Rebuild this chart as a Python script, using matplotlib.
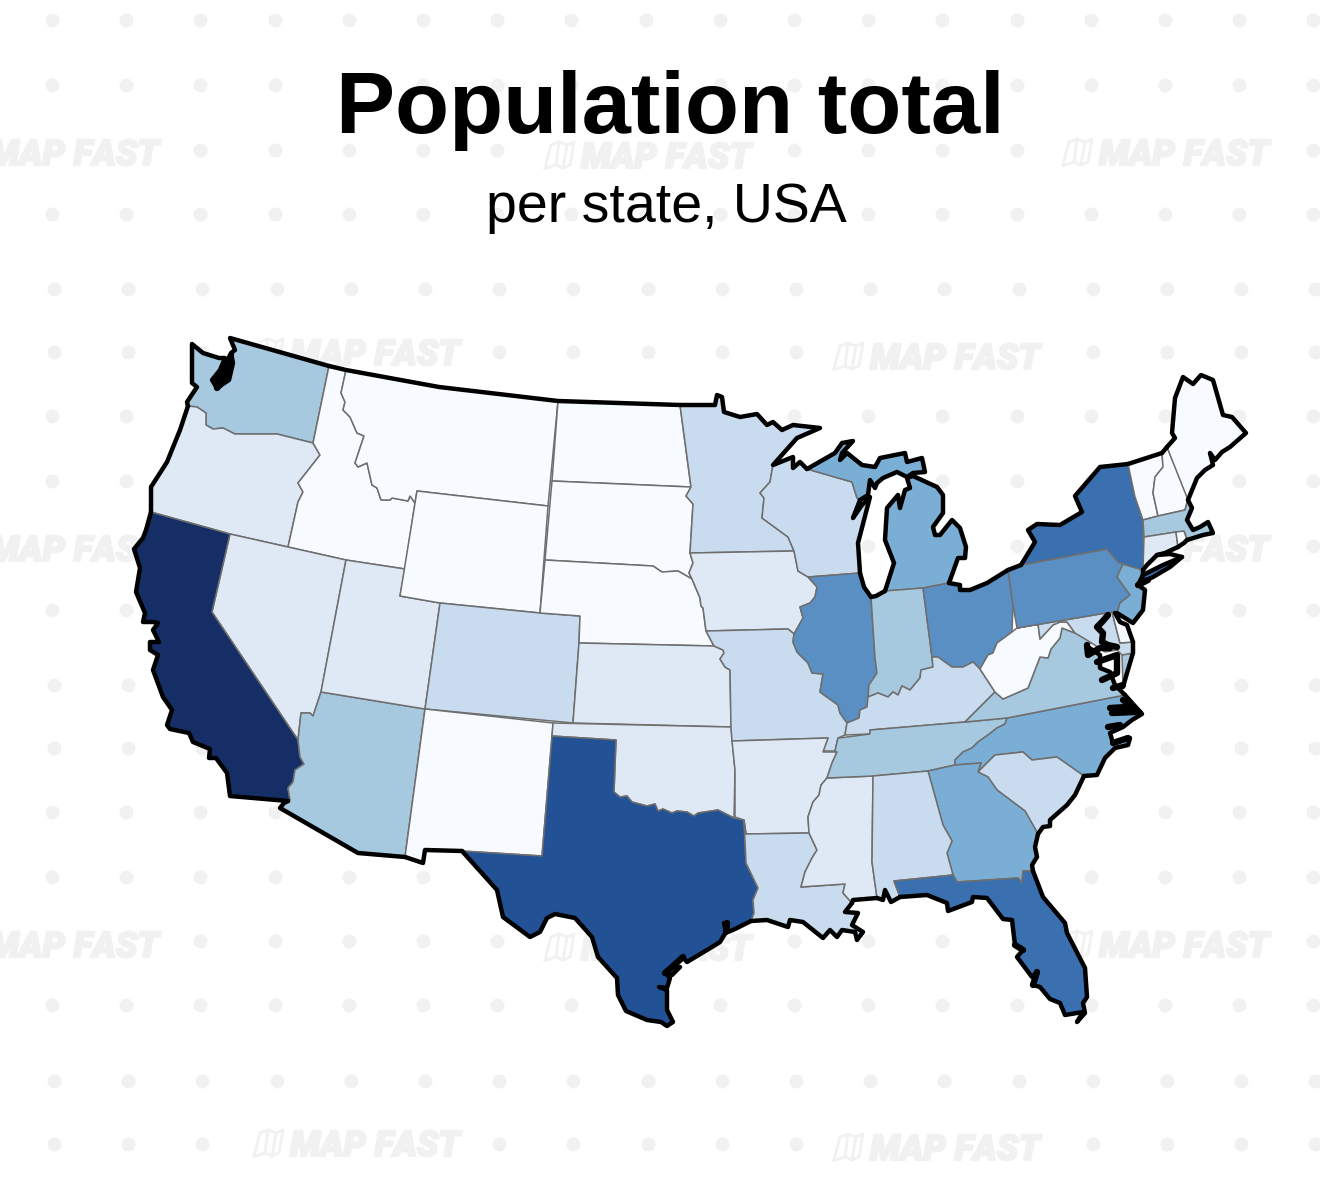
import matplotlib
matplotlib.use('Agg')
import matplotlib.pyplot as plt
import matplotlib.patheffects as pe
import numpy as np

# Blues scale used for the population classes, light to dark
class_colors = ['#f7fbff', '#dfe9f5', '#c9dbee', '#a6c9e0', '#7baed5', '#5a8fc3', '#3a70b0', '#235196', '#152f66']

state_class = {
    'WA': 3, 'OR': 1, 'CA': 8, 'ID': 0, 'NV': 1, 'UT': 1, 'AZ': 3, 'MT': 0, 'WY': 0, 'CO': 2, 'NM': 0,
    'ND': 0, 'SD': 0, 'NE': 0, 'KS': 1, 'OK': 1, 'TX': 7, 'MN': 2, 'IA': 1, 'MO': 2, 'AR': 1, 'LA': 2,
    'WI': 2, 'IL': 5, 'MS': 1, 'MI': 4, 'MIU': 4, 'IN': 3, 'OH': 5, 'KY': 2, 'TN': 3, 'AL': 2, 'GA': 4,
    'FL': 6, 'SC': 2, 'NC': 4, 'VA': 3, 'VAE': 3, 'WV': 0, 'MD': 2, 'DE': 0, 'PA': 5, 'NJ': 4, 'NY': 6, 'LI': 6,
    'CT': 1, 'RI': 0, 'MA': 3, 'VT': 0, 'NH': 0, 'ME': 0,
}

# Coast and border stretches in pixels
wa_coast = [(329,366),(230,338),(235,350),(231,353),(233,363),(229,380),(217,388),(212,380),(220,370),(225,358),
            (219,358),(203,353),(192,344),(192,383),(197,387),(193,393),(187,402),(188,406)]
or_coast = [(188,406),(180,430),(167,462),(151,487),(151,512)]
ca_coast = [(151,512),(146,530),(143,538),(134,549),(140,568),(136,592),(145,613),(143,622),(153,622),(158,623),
            (153,630),(159,642),(150,642),(150,650),(158,655),(153,670),(163,697),(172,710),(167,725),(170,729),
            (189,733),(193,742),(210,749),(209,758),(216,758),(227,773),(230,796),(288,801)]
az_coast = [(288,801),(284,803),(280,808),(358,853),(405,857)]
nm_coast = [(405,857),(423,863),(425,850),(462,851)]
tx_coast = [(462,851),(497,890),(503,917),(530,937),(540,932),(547,918),(555,914),(575,918),(592,937),(598,957),
            (617,978),(618,995),(626,1011),(647,1020),(661,1022),(667,1026),(673,1022),(667,1010),(667,990),
            (659,987),(667,988),(670,978),(665,973),(672,975),(680,967),(672,967),(683,957),(687,962),(712,947),
            (720,942),(726,932),(724,923),(727,923),(728,932),(735,929),(751,921)]
la_coast = [(751,921),(767,920),(788,927),(790,920),(803,922),(823,938),(830,930),(837,937),(842,930),(855,932),
            (857,940),(863,932),(852,925),(858,913),(845,912),(852,903)]
ms_coast = [(852,903),(853,900),(877,898)]
al_coast = [(877,898),(883,900),(885,890),(891,902),(900,897)]
fl_coast = [(900,897),(927,895),(947,903),(948,911),(972,902),(973,897),(987,898),(1003,919),(1012,920),(1015,945),
            (1023,950),(1017,957),(1032,977),(1037,972),(1033,985),(1040,987),(1050,999),(1060,1003),(1065,1015),
            (1083,1012),(1077,1022),(1085,1013),(1083,1003),(1087,997),(1085,968),(1067,933),(1065,923),(1043,897),
            (1033,871)]
ga_coast = [(1033,871),(1032,865),(1037,857),(1035,847),(1038,834)]
sc_coast = [(1038,834),(1043,827),(1050,826),(1050,820),(1067,805),(1075,795),(1084,776)]
nc_coast = [(1084,776),(1097,775),(1105,758),(1115,748),(1128,745),(1130,738),(1113,743),(1110,733),(1123,727),
            (1132,720),(1142,714),(1125,695)]
va_coast = [(1125,695),(1115,685),(1110,672),(1100,668),(1100,655),(1088,647)]
de_coast = [(1115,613),(1120,622),(1127,625),(1133,642)]
delmarva = [(1133,642),(1133,653),(1127,673),(1123,687)]
nj_coast = [(1117,613),(1133,623),(1143,610),(1145,590),(1138,585),(1143,575),(1143,570)]
ny_coast = [(1021,565),(1035,542),(1028,530),(1037,524),(1060,525),(1082,512),(1075,496),(1100,467),(1128,464)]
vt_coast = [(1128,464),(1162,453)]
nh_coast = [(1162,453),(1167,447)]
me_coast = [(1167,447),(1175,438),(1172,433),(1175,398),(1183,377),(1193,384),(1201,375),(1213,380),(1223,415),
            (1232,417),(1246,433),(1230,447),(1222,452),(1215,460),(1210,453),(1213,465),(1205,470),(1197,478),(1188,500)]
ma_coast = [(1188,500),(1192,508),(1187,520),(1193,530),(1200,527),(1208,522),(1213,533),(1203,535),(1187,540)]
ri_coast = [(1187,540),(1184,543),(1178,547)]
ct_coast = [(1178,547),(1165,553),(1157,555),(1147,565),(1143,570)]
li_shape = [(1143,575),(1163,565),(1182,557),(1170,567),(1153,577),(1140,583)]
sound_north = [(1157,555),(1170,554),(1182,557)]
mi_upper_coast = [(807,469),(835,453),(842,443),(853,441),(842,453),(840,460),(847,453),(862,465),(875,467),(880,458),
                  (905,453),(907,462),(922,458),(925,472),(913,473),(907,477),(897,472),(883,478),(877,483),(875,488),
                  (870,480),(868,495),(860,500)]
wi_coast = [(860,500),(853,518),(862,505),(870,497),(864,520),(858,543),(860,573)]
il_coast = [(860,573),(864,587),(871,597)]
in_coast = [(871,597),(876,596),(885,591)]
mi_lower_coast = [(885,591),(894,563),(885,540),(887,508),(898,495),(900,508),(905,490),(910,488),(907,478),(913,476),
                  (937,487),(943,495),(943,513),(933,527),(935,535),(940,535),(952,520),(960,528),(966,547),(965,558),
                  (958,558),(949,583)]
oh_coast = [(949,583),(960,585),(960,590),(970,590),(987,583),(1008,570)]
pa_coast = [(1008,570),(1021,565)]
mn_coast = [(680,405),(715,405),(717,395),(722,397),(724,412),(740,417),(757,414),(767,425),(773,422),(782,430),
            (793,425),(820,428),(797,438),(773,465),(793,457),(793,468),(800,462),(807,469)]
north_border = [(329,366),(346,370),(439,387),(558,401),(680,405)]

# Land borders
wa_or = [(188,406),(197,407),(206,413),(206,425),(213,429),(223,428),(235,434),(277,434),(313,443)]
or_id = [(313,443),(320,455),(298,483),(303,492),(298,502),(288,547)]
id_mt = [(346,370),(341,393),(345,402),(343,410),(350,417),(357,433),(364,436),(355,463),(358,467),(367,463),
         (372,485),(377,488),(381,500),(390,500),(392,498),(408,501),(410,496),(415,503)]
ca_az = [(288,801),(290,800),(288,788),(293,782),(295,770),(304,764),(300,757),(298,740)]
nv_az = [(298,740),(301,713),(310,713),(313,716),(321,692)]
tx_ok = [(616,740),(614,792),(620,797),(627,796),(632,802),(647,806),(655,804),(658,811),(663,809),(672,813),
         (677,811),(687,812),(694,816),(698,813),(718,810),(734,818)]
tx_la = [(744,820),(746,863),(758,888),(753,900),(754,913),(751,921)]
ar_river = [(837,752),(832,763),(827,778),(821,785),(819,795),(813,802),(808,817),(809,833)]
ms_river = [(809,833),(817,850),(812,858),(805,872),(801,887)]
sd_ia = [(692,579),(689,573),(693,563),(690,553)]
ne_ia = [(692,579),(700,598),(701,606),(703,608),(706,631)]
ne_mo = [(706,631),(714,646)]
ks_mo = [(714,646),(723,650),(724,653),(720,659),(725,667),(730,670),(731,727)]
sd_mn = [(691,487),(686,496),(693,504),(693,553)]
mn_wi = [(773,465),(770,482),(760,493),(764,498),(762,518),(788,537),(794,551)]
ia_il = [(794,551),(798,571),(808,577),(817,587),(815,597),(810,603),(800,607),(803,618),(794,634)]
il_mo = [(794,634),(793,642),(797,652),(808,663),(812,673),(823,674),(820,692),(838,705),(840,713),(847,723)]
il_ky = [(847,723),(859,718),(860,710),(867,707),(868,697)]
il_in = [(871,597),(875,658),(877,673),(869,685),(868,697)]
in_ky = [(868,697),(878,693),(888,697),(893,692),(898,695),(902,686),(910,690),(920,678),(921,670),(933,667),(932,657)]
oh_ky = [(932,657),(938,657),(952,667),(963,667),(973,662),(980,669)]
wv_va = [(995,692),(1003,699),(1028,688),(1040,657),(1048,658),(1051,649),(1060,638),(1062,628),(1075,633),(1067,622),
         (1060,622),(1053,625),(1040,639),(1038,624)]
tn_north = [(839,738),(870,734),(870,730),(965,722),(1007,718)]
tn_nc = [(1007,718),(1005,724),(997,728),(988,735),(978,742),(972,748),(963,752),(955,760),(955,765)]
ga_north = [(928,771),(955,765),(981,763)]
sc_ga = [(978,772),(988,777),(997,790),(1025,811),(1038,834)]
nc_sc = [(978,772),(995,755),(1023,752),(1032,760),(1057,757),(1084,776)]
al_ga = [(928,771),(943,825),(952,841),(947,853),(953,875)]
fl_north = [(894,881),(953,875),(957,882),(1018,878),(1022,883),(1023,871),(1033,871)]
al_ms = [(873,776),(872,862),(877,898)]
ny_east = [(1128,464),(1135,497),(1143,520),(1143,540),(1148,563),(1143,570)]
ny_pa = [(1021,565),(1107,549),(1118,562),(1123,564),(1143,570)]
pa_nj = [(1123,564),(1117,577),(1130,595),(1120,603),(1117,613)]

def rev(points):
    return points[::-1]

state_shapes = {
    'WA': wa_coast + wa_or[1:] + [(329,366)],
    'OR': or_coast + [(230,534),(288,547)] + rev(or_id)[1:] + rev(wa_or)[1:],
    'ID': [(329,366),(346,370)] + id_mt[1:] + [(405,569),(346,560),(288,547)] + rev(or_id)[1:],
    'NV': [(230,534),(346,560),(321,692)] + rev(nv_az)[1:] + [(212,612)],
    'CA': ca_coast + ca_az[1:] + [(212,612),(230,534)],
    'AZ': az_coast + [(425,709),(321,692)] + rev(nv_az)[1:] + rev(ca_az)[1:],
    'UT': [(346,560),(405,569),(400,596),(440,603),(425,709),(321,692)],
    'MT': north_border[1:4] + [(548,506),(417,491),(415,503)] + rev(id_mt)[1:],
    'WY': [(417,491),(548,506),(540,613),(440,603),(400,596)],
    'CO': [(440,603),(540,613),(580,616),(579,643),(573,723),(425,709)],
    'NM': [(425,709),(553,723),(552,737),(542,856),(462,851)] + rev(nm_coast)[1:] + [(405,857)],
    'ND': [(558,401),(680,405),(691,487),(552,481)],
    'SD': [(552,481),(691,487)] + sd_mn[1:-1] + rev(sd_ia) + [(678,571),(662,572),(653,566),(545,560)],
    'NE': [(545,560),(653,566),(662,572),(678,571)] + ne_ia + ne_mo[1:] + [(579,643),(580,616),(540,613)],
    'KS': [(579,643)] + ks_mo + [(573,723)],
    'OK': [(553,723),(731,727),(735,770),(734,818)] + rev(tx_ok)[1:] + [(552,736)],
    'TX': [(552,736),(616,740)] + tx_ok[1:] + tx_la + rev(tx_coast)[1:] + [(542,856)],
    'MN': mn_coast[:14] + mn_wi[1:] + [(690,553)] + rev(sd_mn)[1:],
    'IA': [(690,553)] + ia_il + [(788,629),(706,631)] + rev(ne_ia)[1:] + [(689,573),(693,563)],
    'MO': [(706,631),(788,629)] + il_mo + [(845,735),(838,738),(835,751),(823,751),(828,738),(732,741),(731,727)] + rev(ks_mo)[1:],
    'AR': [(732,741),(828,738),(823,752)] + ar_river + [(746,834),(744,820),(735,817),(735,770)],
    'LA': [(746,834),(809,833)] + ms_river[1:] + [(845,884),(843,893),(852,903)] + rev(la_coast)[1:] + rev(tx_la)[1:],
    'MS': [(827,778),(873,776)] + al_ms[1:] + rev(ms_coast)[1:] + [(843,893),(845,884),(801,887)] + rev(ms_river)[1:] + rev(ar_river)[1:-2],
    'WI': [(773,465),(793,457),(793,468),(800,462),(807,469),(852,482),(857,498),(860,500)] + wi_coast[1:] + [(808,577),(798,571),(794,551)] + rev(mn_wi)[1:],
    'MIU': mi_upper_coast + [(857,498),(852,482)],
    'MI': mi_lower_coast + [(923,588)],
    'IL': [(808,577),(860,573)] + il_coast[1:] + il_in[1:] + rev(il_ky)[1:] + rev(il_mo)[1:] + [(803,618),(800,607),(810,603),(815,597),(817,587)],
    'IN': in_coast + [(923,588),(932,657),(933,667),(921,670),(920,678),(910,690),(902,686),(898,695),(893,692),(888,697),(878,693),(868,697)] + rev(il_in)[1:],
    'OH': [(923,588),(949,583)] + oh_coast[1:] + [(1013,605),(1012,632),(997,643),(993,653),(988,655),(980,669)] + rev(oh_ky)[1:],
    'KY': in_ky + oh_ky[1:] + [(995,692),(965,722),(870,730),(870,734),(845,735),(847,723)] + il_ky[1:],
    'TN': tn_north + tn_nc[1:] + [(928,771),(873,776),(827,778),(832,763),(837,752),(835,751),(838,738)],
    'NC': tn_nc + [(981,763),(978,772)] + nc_sc[1:] + nc_coast[1:],
    'SC': nc_sc + rev(sc_coast)[1:] + rev(sc_ga)[1:],
    'GA': ga_north + [(978,772)] + sc_ga[1:] + rev(ga_coast)[1:] + [(1023,871),(1022,883),(1018,878),(957,882),(953,875)] + rev(al_ga)[1:],
    'AL': [(873,776),(928,771)] + al_ga[1:] + [(894,881),(900,897)] + rev(al_coast)[1:] + [(872,862)],
    'FL': fl_north + rev(fl_coast)[1:] + [(894,881)],
    'VA': [(995,692),(1003,699),(1028,688),(1040,657),(1048,658),(1051,649),(1060,638),(1062,628),(1075,633),(1092,640),(1088,647)] + rev(va_coast)[1:] + [(1007,718),(965,722)],
    'VAE': [(1122,655),(1133,653),(1127,673),(1123,685)],
    'WV': [(980,669),(988,655),(993,653),(997,643),(1012,632),(1017,628),(1038,624)] + rev(wv_va)[1:],
    'MD': [(1017,628),(1112,612),(1120,643),(1133,642),(1133,653),(1122,655),(1117,650),(1105,652),(1090,642),(1075,633),(1067,622),(1060,622),(1053,625),(1040,639),(1038,624)],
    'DE': [(1112,612),(1117,613),(1120,622),(1127,625),(1133,642),(1120,643)],
    'PA': [(1008,570),(1021,565)] + ny_pa[1:4] + pa_nj[1:] + [(1112,612),(1017,628),(1013,605)],
    'NJ': [(1123,564),(1143,570),(1143,575),(1138,585),(1145,590),(1143,610),(1133,623),(1117,613)] + rev(pa_nj)[1:4],
    'NY': ny_coast + ny_east[1:] + rev(ny_pa)[1:],
    'LI': li_shape,
    'VT': vt_coast + [(1163,467),(1155,477),(1153,493),(1158,516),(1143,520),(1135,497)],
    'NH': nh_coast + [(1188,498),(1185,510),(1158,516),(1153,493),(1155,477),(1163,467)],
    'ME': me_coast,
    'MA': [(1143,520),(1158,516),(1185,510),(1188,500)] + ma_coast[1:] + [(1185,533),(1177,532),(1144,537)],
    'CT': [(1144,537),(1176,532),(1178,547),(1157,555),(1147,565),(1143,570)],
    'RI': [(1176,532),(1184,531),(1187,540),(1178,547)],
}

coast_lines = [wa_coast, or_coast, ca_coast, az_coast, nm_coast, tx_coast, la_coast, ms_coast, al_coast, fl_coast,
               ga_coast, sc_coast, nc_coast, va_coast, de_coast, delmarva, nj_coast, ny_coast, vt_coast,
               nh_coast, me_coast, ma_coast, ri_coast, ct_coast, sound_north, li_shape + li_shape[:1], mi_upper_coast,
               wi_coast, il_coast, in_coast, mi_lower_coast, oh_coast, pa_coast, mn_coast, north_border]

# Heavier black inlets: Puget Sound, Chesapeake and the Carolina sounds
inlets = [[(231,355),(225,370),(217,380),(217,388),(226,378),(229,365)],
          [(1108,615),(1102,622),(1097,627),(1103,633),(1102,642),(1108,645),(1117,647)],
          [(1087,645),(1088,655),(1100,648),(1110,648)], [(1097,662),(1117,655),(1117,673),(1102,680)],
          [(1113,688),(1123,685)], [(1110,708),(1127,707),(1112,713),(1135,712)], [(1123,700),(1140,713)],
          [(1148,580),(1138,585)], [(1108,727),(1120,725)], [(1113,743),(1128,738)],
          [(683,957),(672,967),(665,973)], [(727,923),(726,932)], [(1037,972),(1033,985)], [(1015,945),(1023,950)]]

watermark_spots = [(-11,152),(581,155),(1099,152),(290,352),(870,356),(-11,548),(1099,548),
                   (-11,944),(581,947),(1099,944),(290,1143),(870,1147)]
watermark_width = 175

dot_rows_a = [20, 85, 150, 214, 416, 481, 546, 610, 812, 877, 941, 1005]
dot_rows_b = [289, 352, 685, 748, 1081, 1144]

fig = plt.figure(figsize=(13.2, 12), dpi=100)
ax = fig.add_axes([0, 0, 1, 1])
ax.set_xlim(0, 1320)
ax.set_ylim(1200, 0)
ax.axis('off')

# Background dots, left out where a watermark sits
dot_x, dot_y = [], []
for rows, start in ((dot_rows_a, 52), (dot_rows_b, 54)):
    for row in rows:
        for x in np.arange(start, 1330, 74.2):
            hidden = any(abs(row - wy) < 15 and wx - 48 < x < wx + watermark_width + 10 for wx, wy in watermark_spots)
            if not hidden:
                dot_x.append(x)
                dot_y.append(row)
ax.scatter(dot_x, dot_y, s=101, color='#f1f1f1', linewidths=0, zorder=1)

for wx, wy in watermark_spots:
    ax.text(wx, wy, 'MAP FAST', family='Roboto', weight=900, style='italic', fontsize=25.5, color='#f1f1f1',
            ha='left', va='center_baseline', zorder=1,
            path_effects=[pe.withStroke(linewidth=1.6, foreground='#f1f1f1')])
    # little folded map logo
    ax.plot([wx-36, wx-30, wx-22, wx-14, wx-7, wx-11, wx-18, wx-25, wx-34, wx-36],
            [wy+13, wy-10, wy-13, wy-10, wy-13, wy+10, wy+13, wy+10, wy+13, wy+13],
            color='#f1f1f1', lw=2, zorder=1)
    ax.plot([wx-25, wx-22], [wy+10, wy-13], color='#f1f1f1', lw=2, zorder=1)
    ax.plot([wx-18, wx-14], [wy+13, wy-10], color='#f1f1f1', lw=2, zorder=1)

for name, shape in state_shapes.items():
    xs = [p[0] for p in shape]
    ys = [p[1] for p in shape]
    ax.fill(xs, ys, facecolor=class_colors[state_class[name]], edgecolor='#6e6e6e', linewidth=1.1,
            joinstyle='round', zorder=2)

for line in coast_lines:
    xs = [p[0] for p in line]
    ys = [p[1] for p in line]
    ax.plot(xs, ys, color='black', lw=3.2, solid_joinstyle='round', solid_capstyle='round', zorder=3)
for line in inlets:
    xs = [p[0] for p in line]
    ys = [p[1] for p in line]
    ax.plot(xs, ys, color='black', lw=4.6, solid_joinstyle='round', solid_capstyle='round', zorder=3)

ax.text(670, 133, 'Population total', family='Liberation Sans', weight='bold', fontsize=63.7,
        ha='center', va='baseline', color='black', zorder=4)
ax.text(666, 222, 'per state, USA', family='Liberation Sans', fontsize=40,
        ha='center', va='baseline', color='black', zorder=4)

fig.savefig('out.png', dpi=100)
